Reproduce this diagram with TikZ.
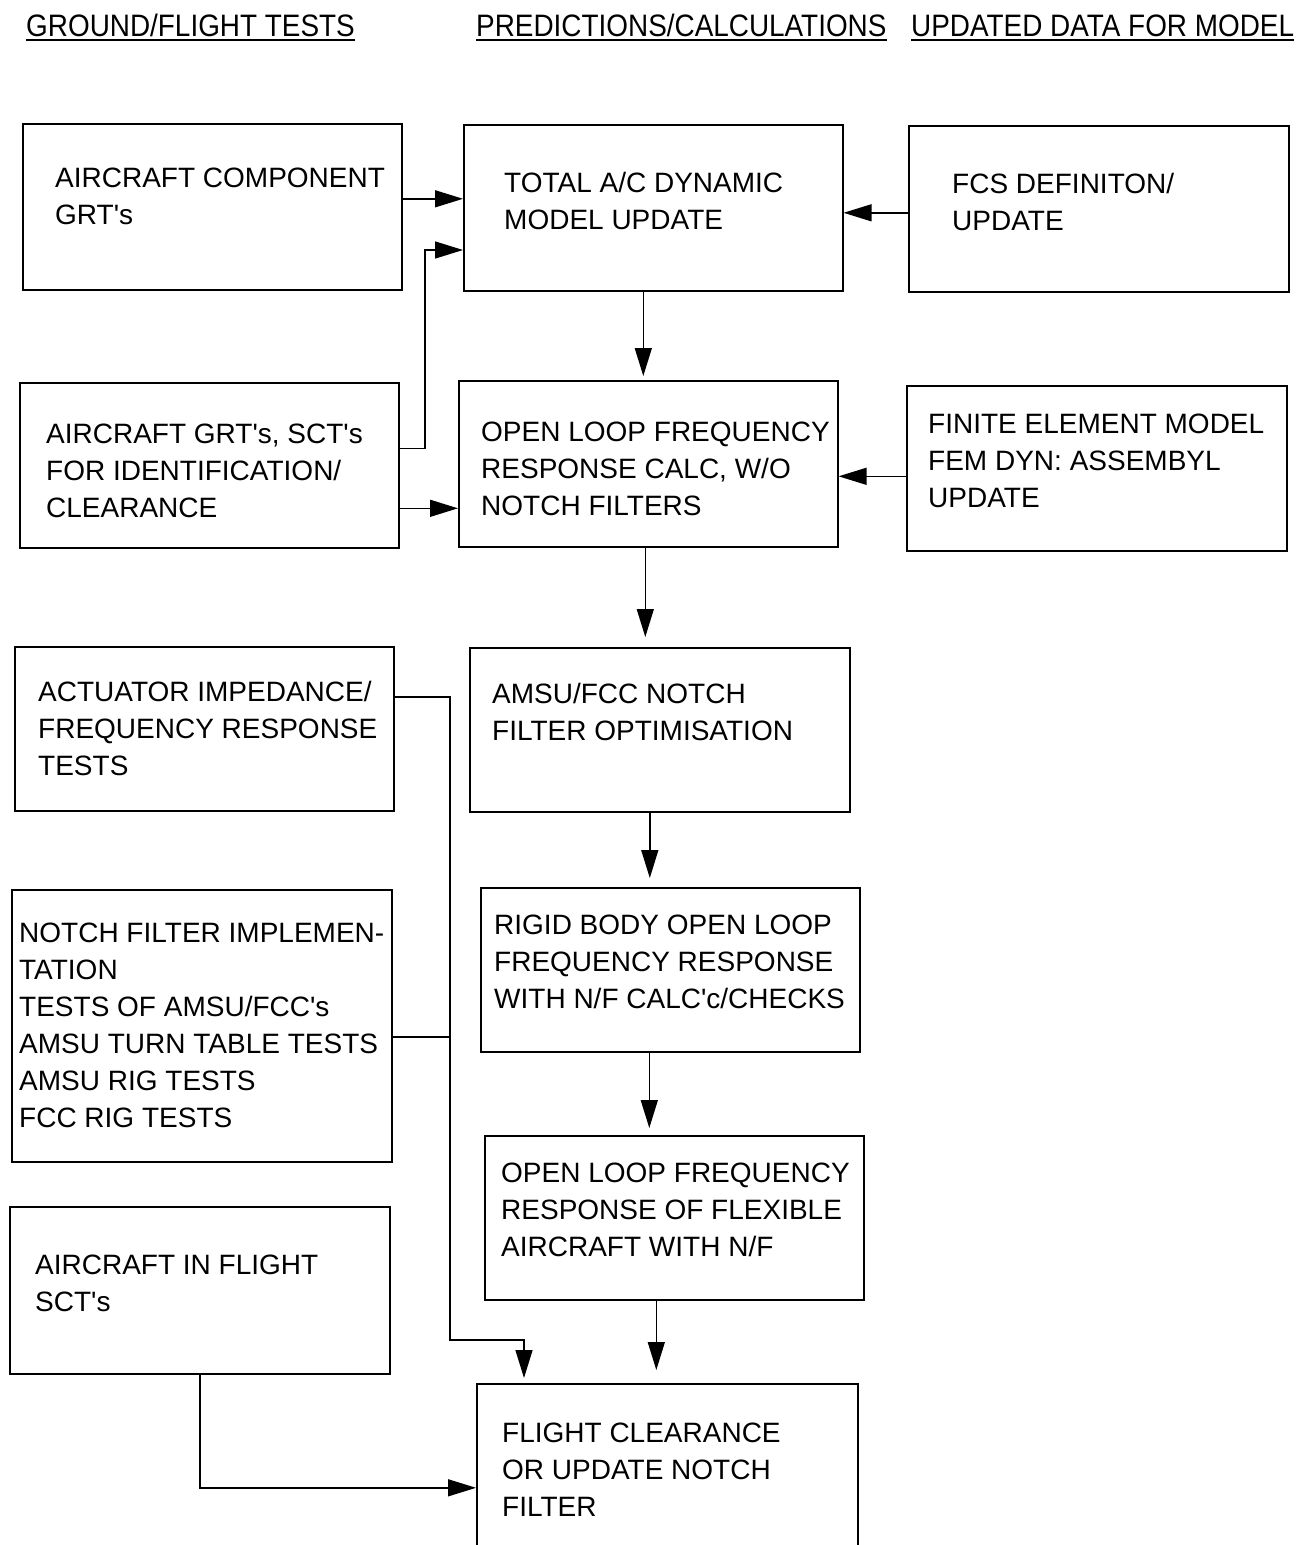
\documentclass[tikz,border=0pt]{standalone}
\usepackage{fontspec}
\setmainfont{Liberation Sans}
\newfontfamily\headfont[FakeStretch=0.9]{Liberation Sans}
\usetikzlibrary{arrows.meta}

\newcommand{\ap}{\textquotesingle}

\tikzset{
  blk/.style={draw, rectangle, anchor=north west, inner sep=0pt, line width=1.6pt},
  txt/.style={anchor=north west, inner sep=0pt, align=left, font=\fontsize{28}{37}\selectfont},
  hd/.style={anchor=base west, inner sep=0pt, font=\headfont\fontsize{31}{37}\selectfont},
  lnk/.style={line width=1.4pt},
  arr/.style={line width=1.4pt, -{Triangle[length=28pt,width=17pt]}}
}

\begin{document}
\begin{tikzpicture}[x=1pt,y=-1pt]
    \useasboundingbox (0,0) rectangle (1299,1545);
    % Column headings
    \node[hd] (h1) at (26,36) {GROUND/FLIGHT TESTS};
    \node[hd] (h2) at (476,36) {PREDICTIONS/CALCULATIONS};
    \node[hd] (h3) at (911,36) {UPDATED DATA FOR MODEL};
    \foreach \h in {h1,h2,h3}
        \draw[line width=2pt] ([yshift=-4pt]\h.base west) -- ([yshift=-4pt]\h.base east);
    % Tests
    \node[blk, minimum width=379pt, minimum height=166pt] (b1) at (22,123) {};
    \node[txt] (b1t) at (55,168) {AIRCRAFT COMPONENT\\GRT\ap s};
    \node[blk, minimum width=379pt, minimum height=165pt] (b2) at (19,382) {};
    \node[txt] (b2t) at (46,424) {AIRCRAFT GRT\ap s, SCT\ap s\\FOR IDENTIFICATION/\\CLEARANCE};
    \node[blk, minimum width=379pt, minimum height=164pt] (b3) at (14,646) {};
    \node[txt] (b3t) at (38,681) {ACTUATOR IMPEDANCE/\\FREQUENCY RESPONSE\\TESTS};
    \node[blk, minimum width=380pt, minimum height=272pt] (b4) at (11,889) {};
    \node[txt] (b4t) at (19,923) {NOTCH FILTER IMPLEMEN-\\TATION\\TESTS OF AMSU/FCC\ap s\\AMSU TURN TABLE TESTS\\AMSU RIG TESTS\\FCC RIG TESTS};
    \node[blk, minimum width=380pt, minimum height=167pt] (b5) at (9,1206) {};
    \node[txt] (b5t) at (35,1255) {AIRCRAFT IN FLIGHT\\SCT\ap s};
    % Predictions
    \node[blk, minimum width=379pt, minimum height=166pt] (m1) at (463,124) {};
    \node[txt] (m1t) at (504,172) {TOTAL A/C DYNAMIC\\MODEL UPDATE};
    \node[blk, minimum width=379pt, minimum height=166pt] (m2) at (458,380) {};
    \node[txt] (m2t) at (481,422) {OPEN LOOP FREQUENCY\\RESPONSE CALC, W/O\\NOTCH FILTERS};
    \node[blk, minimum width=380pt, minimum height=164pt] (m3) at (469,647) {};
    \node[txt] (m3t) at (492,683) {AMSU/FCC NOTCH\\FILTER OPTIMISATION};
    \node[blk, minimum width=379pt, minimum height=164pt] (m4) at (480,887) {};
    \node[txt] (m4t) at (494,915) {RIGID BODY OPEN LOOP\\FREQUENCY RESPONSE\\WITH N/F CALC\ap c/CHECKS};
    \node[blk, minimum width=379pt, minimum height=164pt] (m5) at (484,1135) {};
    \node[txt] (m5t) at (501,1163) {OPEN LOOP FREQUENCY\\RESPONSE OF FLEXIBLE\\AIRCRAFT WITH N/F};
    \node[blk, minimum width=381pt, minimum height=200pt] (m6) at (476,1383) {};
    \node[txt] (m6t) at (502,1423) {FLIGHT CLEARANCE\\OR UPDATE NOTCH\\FILTER};
    % Model data
    \node[blk, minimum width=380pt, minimum height=166pt] (r1) at (908,125) {};
    \node[txt] (r1t) at (952,173) {FCS DEFINITON/\\UPDATE};
    \node[blk, minimum width=380pt, minimum height=165pt] (r2) at (906,385) {};
    \node[txt] (r2t) at (928,414) {FINITE ELEMENT MODEL\\FEM DYN: ASSEMBYL\\UPDATE};
    % Inputs to the model update and loop calc
    \coordinate (c1) at (425,250);
    \draw[arr] ([yshift=8pt]b1.east) -- ([yshift=8pt]b1.east -| m1.west);
    \draw[arr] ([yshift=17pt]b2.east) -| (c1) -- (c1 -| m1.west);
    \draw[arr] ([yshift=-43pt]b2.east) -- ([yshift=-43pt]b2.east -| m2.west);
    \draw[arr] ([yshift=-4pt]r1.west) -- ([yshift=-4pt]r1.west -| m1.east);
    \draw[arr] ([yshift=-8pt]r2.west) -- ([yshift=-8pt]r2.west -| m2.east);
    % Main chain
    \draw[arr, shorten >=4pt] ([xshift=-10pt]m1.south) -- ([xshift=-10pt]m1.south |- m2.north);
    \draw[arr, shorten >=10pt] ([xshift=-3pt]m2.south) -- ([xshift=-3pt]m2.south |- m3.north);
    \draw[arr, shorten >=9pt] ([xshift=-10pt]m3.south) -- ([xshift=-10pt]m3.south |- m4.north);
    \draw[arr, shorten >=7pt] ([xshift=-21pt]m4.south) -- ([xshift=-21pt]m4.south |- m5.north);
    \draw[arr, shorten >=13pt] ([xshift=-18pt]m5.south) -- ([xshift=-18pt]m5.south |- m6.north);
    % Test results into clearance
    \coordinate (c2) at (450,1340);
    \coordinate (c3) at (524,1340);
    \draw[arr, shorten >=5pt] ([yshift=32pt]b3.east) -| (c2) -- (c3) -- (c3 |- m6.north);
    \draw[lnk] ([yshift=-11pt]b4.east) -- ([yshift=-11pt]b4.east -| c2);
    \draw[arr] (b5.south) |- ([yshift=-4pt]m6.west);
\end{tikzpicture}
\end{document}
